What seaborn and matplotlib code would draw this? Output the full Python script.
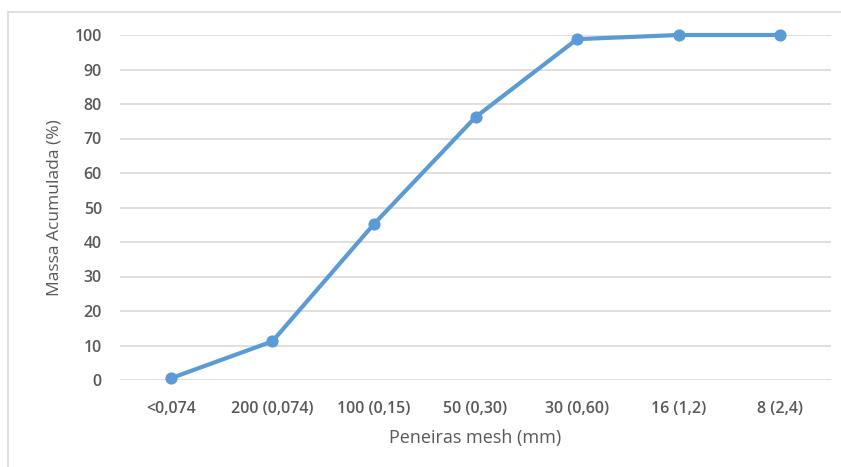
import matplotlib
matplotlib.use("Agg")
import matplotlib.pyplot as plt
import seaborn as sns
import pandas as pd
from matplotlib.patches import Rectangle

categories = ["<0,074", "200 (0,074)", "100 (0,15)", "50 (0,30)", "30 (0,60)", "16 (1,2)", "8 (2,4)"]
values = [0.5, 11.2, 45.2, 76.2, 98.8, 100, 100]
yticks = [0, 10, 20, 30, 40, 50, 60, 70, 80, 90, 100]

sns.set_theme(style="white")
plt.rcParams['font.family'] = ['Open Sans', 'DejaVu Sans']

fig = plt.figure(figsize=(8.41, 4.67), dpi=100)
fig.patch.set_facecolor("white")
# outer chart border
fig.add_artist(Rectangle((8/841, -0.1), 1.0, (467-12)/467 + 0.1, transform=fig.transFigure,
                         fill=False, edgecolor="#D9D9D9", linewidth=1.2))

ax = fig.add_axes([120/841, (467-380)/467, (831-120)/841, (380-35)/467])
df = pd.DataFrame({"cat": categories, "val": values})
line_color = "#5B9BD5"
sns.lineplot(data=df, x="cat", y="val", ax=ax, color=line_color, linewidth=3,
             marker="o", markersize=8, markeredgecolor=line_color, sort=False, zorder=3)
for l in ax.lines:
    l.set_clip_on(False)

ax.set_xlim(-0.5, len(categories) - 0.5)
ax.set_ylim(0, 100)
ax.set_yticks(yticks)
ax.set_yticklabels([str(t) for t in yticks])
for y in yticks:
    ax.axhline(y, color="#D9D9D9", linewidth=1.2, zorder=1)
for s in ax.spines.values():
    s.set_visible(False)
ax.tick_params(axis="both", length=0, labelsize=11.5, colors="#595959")
ax.tick_params(axis="y", pad=13)
ax.tick_params(axis="x", pad=15)
for t in ax.get_xticklabels() + ax.get_yticklabels():
    t.set_fontweight("semibold")
ax.set_xlabel("Peneiras mesh (mm)", fontsize=13, color="#595959", labelpad=9)
ax.set_ylabel("Massa Acumulada (%)", fontsize=12.5, color="#595959", labelpad=9)

fig.savefig("out.png", dpi=100)
